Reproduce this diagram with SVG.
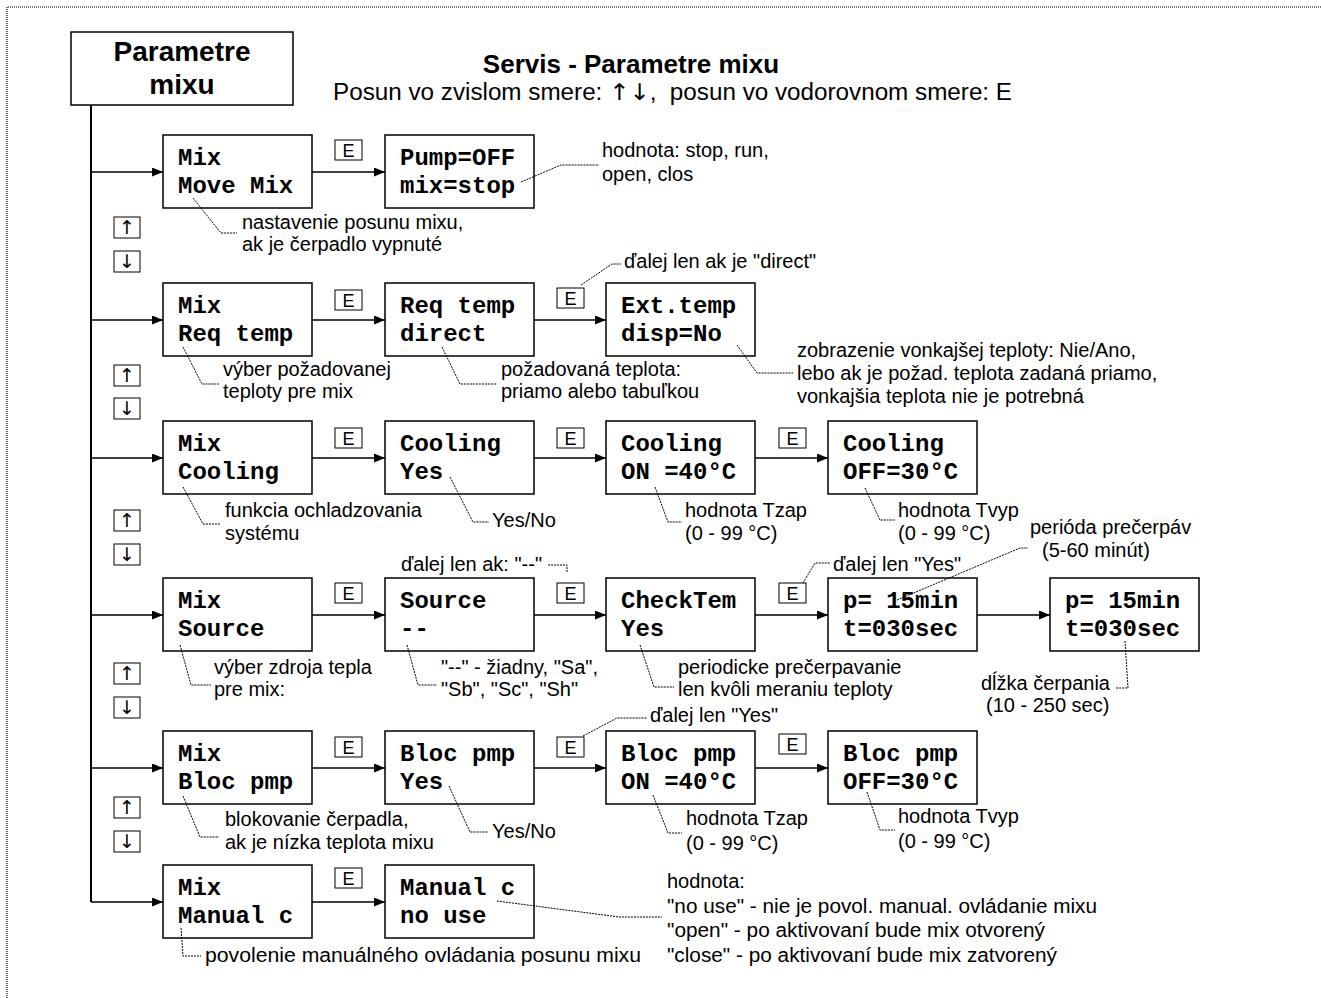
<svg xmlns="http://www.w3.org/2000/svg" width="1321" height="998" viewBox="0 0 1321 998">
<defs>
<marker id="ah" markerUnits="userSpaceOnUse" markerWidth="11" markerHeight="9" refX="11" refY="4.5" orient="auto">
<path d="M0,0 L11,4.5 L0,9 Z" fill="#000"/>
</marker>
<style>
.node{fill:#fff;stroke:#000;stroke-width:1.5}
.eb{fill:#fff;stroke:#000;stroke-width:1}
.mono{font-family:"Liberation Mono","Courier New",monospace;font-weight:bold;font-size:24px;fill:#000}
.ann{font-family:"Liberation Sans",Arial,sans-serif;font-size:20px;fill:#000}
.el{font-family:"Liberation Sans",Arial,sans-serif;font-size:18px;fill:#000;text-anchor:middle}
.arr{font-family:"DejaVu Sans",sans-serif;font-size:19px;fill:#000;text-anchor:middle}
.ln{fill:none;stroke:#000;stroke-width:1.3}
.ld{fill:none;stroke:#000;stroke-width:1;stroke-dasharray:2 1}
.title{font-family:"Liberation Sans",Arial,sans-serif;font-weight:bold;fill:#000}
</style>
</defs>
<rect width="1321" height="998" fill="#fff"/>
<path d="M7,998 V7 H1321" fill="none" stroke="#000" stroke-width="1.2" stroke-dasharray="1 1"/>

<g id="header">
<rect x="71" y="32" width="222" height="73" class="node" stroke-width="1"/>
<text x="182" y="61" class="title" font-size="28" text-anchor="middle">Parametre</text>
<text x="182" y="94" class="title" font-size="28" text-anchor="middle">mixu</text>
<text x="631" y="73" class="title" font-size="26" text-anchor="middle">Servis - Parametre mixu</text>
<text x="333" y="100" font-family="Liberation Sans, Arial, sans-serif" font-size="23" fill="#000" xml:space="preserve" textLength="679" lengthAdjust="spacingAndGlyphs">Posun vo zvislom smere: <tspan font-family="DejaVu Sans, sans-serif">↑↓</tspan>,  posun vo vodorovnom smere: E</text>
</g>

<g id="connectors">
<path d="M91,105 V902" fill="none" stroke="#000" stroke-width="2"/>
<path class="ln" d="M91,172 H163" marker-end="url(#ah)"/>
<path class="ln" d="M91,320 H163" marker-end="url(#ah)"/>
<path class="ln" d="M91,458 H163" marker-end="url(#ah)"/>
<path class="ln" d="M91,615 H163" marker-end="url(#ah)"/>
<path class="ln" d="M91,768 H163" marker-end="url(#ah)"/>
<path class="ln" d="M91,902 H163" marker-end="url(#ah)"/>
<path class="ln" d="M312,172 H385" marker-end="url(#ah)"/>
<path class="ln" d="M312,320 H385" marker-end="url(#ah)"/>
<path class="ln" d="M534,320 H606" marker-end="url(#ah)"/>
<path class="ln" d="M312,458 H385" marker-end="url(#ah)"/>
<path class="ln" d="M534,458 H606" marker-end="url(#ah)"/>
<path class="ln" d="M755,458 H828" marker-end="url(#ah)"/>
<path class="ln" d="M312,615 H385" marker-end="url(#ah)"/>
<path class="ln" d="M534,615 H606" marker-end="url(#ah)"/>
<path class="ln" d="M755,615 H828" marker-end="url(#ah)"/>
<path class="ln" d="M977,615 H1050" marker-end="url(#ah)"/>
<path class="ln" d="M312,768 H385" marker-end="url(#ah)"/>
<path class="ln" d="M534,768 H606" marker-end="url(#ah)"/>
<path class="ln" d="M755,768 H828" marker-end="url(#ah)"/>
<path class="ln" d="M312,902 H385" marker-end="url(#ah)"/>
</g>

<g id="ekeys">
<rect class="eb" x="335" y="140" width="27" height="20"/><text class="el" x="348.5" y="157">E</text>
<rect class="eb" x="335" y="290" width="27" height="20"/><text class="el" x="348.5" y="307">E</text>
<rect class="eb" x="557" y="288" width="27" height="20"/><text class="el" x="570.5" y="305">E</text>
<rect class="eb" x="335" y="428" width="27" height="20"/><text class="el" x="348.5" y="445">E</text>
<rect class="eb" x="557" y="428" width="27" height="20"/><text class="el" x="570.5" y="445">E</text>
<rect class="eb" x="779" y="428" width="27" height="20"/><text class="el" x="792.5" y="445">E</text>
<rect class="eb" x="335" y="583" width="27" height="20"/><text class="el" x="348.5" y="600">E</text>
<rect class="eb" x="557" y="583" width="27" height="20"/><text class="el" x="570.5" y="600">E</text>
<rect class="eb" x="779" y="583" width="27" height="20"/><text class="el" x="792.5" y="600">E</text>
<rect class="eb" x="335" y="737" width="27" height="20"/><text class="el" x="348.5" y="754">E</text>
<rect class="eb" x="557" y="737" width="27" height="20"/><text class="el" x="570.5" y="754">E</text>
<rect class="eb" x="779" y="734" width="27" height="20"/><text class="el" x="792.5" y="751">E</text>
<rect class="eb" x="335" y="868" width="27" height="20"/><text class="el" x="348.5" y="885">E</text>
</g>

<g id="updown">
<rect class="eb" x="114" y="217" width="26" height="21"/><text class="arr" x="127" y="234">↑</text>
<rect class="eb" x="114" y="251" width="26" height="21"/><text class="arr" x="127" y="268">↓</text>
<rect class="eb" x="114" y="365" width="26" height="21"/><text class="arr" x="127" y="382">↑</text>
<rect class="eb" x="114" y="398" width="26" height="21"/><text class="arr" x="127" y="415">↓</text>
<rect class="eb" x="114" y="510" width="26" height="21"/><text class="arr" x="127" y="527">↑</text>
<rect class="eb" x="114" y="544" width="26" height="21"/><text class="arr" x="127" y="561">↓</text>
<rect class="eb" x="114" y="663" width="26" height="21"/><text class="arr" x="127" y="680">↑</text>
<rect class="eb" x="114" y="697" width="26" height="21"/><text class="arr" x="127" y="714">↓</text>
<rect class="eb" x="114" y="797" width="26" height="21"/><text class="arr" x="127" y="814">↑</text>
<rect class="eb" x="114" y="831" width="26" height="21"/><text class="arr" x="127" y="848">↓</text>
</g>

<g id="n-mix-move">
<rect class="node" x="163" y="135" width="149" height="73"/>
<text class="mono" x="178" y="165">Mix</text><text class="mono" x="178" y="193">Move Mix</text>
</g>
<g id="n-pump">
<rect class="node" x="385" y="135" width="149" height="73"/>
<text class="mono" x="400" y="165">Pump=OFF</text><text class="mono" x="400" y="193">mix=stop</text>
</g>

<g id="n-mix-req">
<rect class="node" x="163" y="283" width="149" height="73"/>
<text class="mono" x="178" y="313">Mix</text><text class="mono" x="178" y="341">Req temp</text>
</g>
<g id="n-req-direct">
<rect class="node" x="385" y="283" width="149" height="73"/>
<text class="mono" x="400" y="313">Req temp</text><text class="mono" x="400" y="341">direct</text>
</g>
<g id="n-ext">
<rect class="node" x="606" y="283" width="149" height="73"/>
<text class="mono" x="621" y="313">Ext.temp</text><text class="mono" x="621" y="341">disp=No</text>
</g>

<g id="n-mix-cool">
<rect class="node" x="163" y="421" width="149" height="73"/>
<text class="mono" x="178" y="451">Mix</text><text class="mono" x="178" y="479">Cooling</text>
</g>
<g id="n-cool-yes">
<rect class="node" x="385" y="421" width="149" height="73"/>
<text class="mono" x="400" y="451">Cooling</text><text class="mono" x="400" y="479">Yes</text>
</g>
<g id="n-cool-on">
<rect class="node" x="606" y="421" width="149" height="73"/>
<text class="mono" x="621" y="451">Cooling</text><text class="mono" x="621" y="479">ON =40°C</text>
</g>
<g id="n-cool-off">
<rect class="node" x="828" y="421" width="149" height="73"/>
<text class="mono" x="843" y="451">Cooling</text><text class="mono" x="843" y="479">OFF=30°C</text>
</g>

<g id="n-mix-src">
<rect class="node" x="163" y="578" width="149" height="73"/>
<text class="mono" x="178" y="608">Mix</text><text class="mono" x="178" y="636">Source</text>
</g>
<g id="n-src">
<rect class="node" x="385" y="578" width="149" height="73"/>
<text class="mono" x="400" y="608">Source</text><text class="mono" x="400" y="636">--</text>
</g>
<g id="n-check">
<rect class="node" x="606" y="578" width="149" height="73"/>
<text class="mono" x="621" y="608">CheckTem</text><text class="mono" x="621" y="636">Yes</text>
</g>
<g id="n-p1">
<rect class="node" x="828" y="578" width="149" height="73"/>
<text class="mono" x="843" y="608">p= 15min</text><text class="mono" x="843" y="636">t=030sec</text>
</g>
<g id="n-p2">
<rect class="node" x="1050" y="578" width="149" height="73"/>
<text class="mono" x="1065" y="608">p= 15min</text><text class="mono" x="1065" y="636">t=030sec</text>
</g>

<g id="n-mix-bloc">
<rect class="node" x="163" y="731" width="149" height="73"/>
<text class="mono" x="178" y="761">Mix</text><text class="mono" x="178" y="789">Bloc pmp</text>
</g>
<g id="n-bloc-yes">
<rect class="node" x="385" y="731" width="149" height="73"/>
<text class="mono" x="400" y="761">Bloc pmp</text><text class="mono" x="400" y="789">Yes</text>
</g>
<g id="n-bloc-on">
<rect class="node" x="606" y="731" width="149" height="73"/>
<text class="mono" x="621" y="761">Bloc pmp</text><text class="mono" x="621" y="789">ON =40°C</text>
</g>
<g id="n-bloc-off">
<rect class="node" x="828" y="731" width="149" height="73"/>
<text class="mono" x="843" y="761">Bloc pmp</text><text class="mono" x="843" y="789">OFF=30°C</text>
</g>

<g id="n-mix-man">
<rect class="node" x="163" y="865" width="149" height="73"/>
<text class="mono" x="178" y="895">Mix</text><text class="mono" x="178" y="923">Manual c</text>
</g>
<g id="n-man">
<rect class="node" x="385" y="865" width="149" height="73"/>
<text class="mono" x="400" y="895">Manual c</text><text class="mono" x="400" y="923">no use</text>
</g>

<g id="leaders">
<polyline class="ld" points="193,198 221,233 237,233"/>
<polyline class="ld" points="521,182 561,165 599,165"/>
<polyline class="ld" points="581,285 612,264 621,264"/>
<polyline class="ld" points="183,347 202,384 219,384"/>
<polyline class="ld" points="442,347 460,384 497,384"/>
<polyline class="ld" points="737,345 757,373 793,373"/>
<polyline class="ld" points="183,487 203,524 220,524"/>
<polyline class="ld" points="450,477 473,522 489,522"/>
<polyline class="ld" points="655,487 668,522 682,522"/>
<polyline class="ld" points="865,488 880,520 895,520"/>
<polyline class="ld" points="548,565 567,565 567,573"/>
<polyline class="ld" points="180,645 191,685 211,685"/>
<polyline class="ld" points="407,645 418,685 437,685"/>
<polyline class="ld" points="640,645 654,687 674,687"/>
<polyline class="ld" points="803,583 815,563 830,563"/>
<polyline class="ld" points="897,600 1020,548 1028,548"/>
<polyline class="ld" points="1125,641 1128,688 1116,688"/>
<polyline class="ld" points="583,736 617,718 647,718"/>
<polyline class="ld" points="183,796 200,837 219,837"/>
<polyline class="ld" points="449,786 470,832 488,832"/>
<polyline class="ld" points="653,795 668,833 682,833"/>
<polyline class="ld" points="867,792 880,830 895,830"/>
<polyline class="ld" points="181,928 183,956 201,956"/>
<polyline class="ld" points="497,901 619,917 662,917"/>
</g>

<g id="notes">
<text class="ann" x="242" y="229">nastavenie posunu mixu,</text>
<text class="ann" x="242" y="251">ak je čerpadlo vypnuté</text>
<text class="ann" x="602" y="157">hodnota: stop, run,</text>
<text class="ann" x="602" y="181">open, clos</text>
<text class="ann" x="624" y="268">ďalej len ak je "direct"</text>
<text class="ann" x="223" y="376">výber požadovanej</text>
<text class="ann" x="223" y="398">teploty pre mix</text>
<text class="ann" x="501" y="376">požadovaná teplota:</text>
<text class="ann" x="501" y="398">priamo alebo tabuľkou</text>
<text class="ann" x="797" y="357">zobrazenie vonkajšej teploty: Nie/Ano,</text>
<text class="ann" x="797" y="380">lebo ak je požad. teplota zadaná priamo,</text>
<text class="ann" x="797" y="403">vonkajšia teplota nie je potrebná</text>
<text class="ann" x="225" y="517">funkcia ochladzovania</text>
<text class="ann" x="225" y="540">systému</text>
<text class="ann" x="492" y="527">Yes/No</text>
<text class="ann" x="685" y="517">hodnota Tzap</text>
<text class="ann" x="685" y="540">(0 - 99 °C)</text>
<text class="ann" x="898" y="517">hodnota Tvyp</text>
<text class="ann" x="898" y="540">(0 - 99 °C)</text>
<text class="ann" x="401" y="571">ďalej len ak: "--"</text>
<text class="ann" x="214" y="674">výber zdroja tepla</text>
<text class="ann" x="214" y="696">pre mix:</text>
<text class="ann" x="441" y="674">"--" - žiadny, "Sa",</text>
<text class="ann" x="441" y="696">"Sb", "Sc", "Sh"</text>
<text class="ann" x="678" y="674">periodicke prečerpavanie</text>
<text class="ann" x="678" y="696">len kvôli meraniu teploty</text>
<text class="ann" x="833" y="571">ďalej len "Yes"</text>
<text class="ann" x="1030" y="534">perióda prečerpáv</text>
<text class="ann" x="1042" y="557">(5-60 minút)</text>
<text class="ann" x="981" y="690">dĺžka čerpania</text>
<text class="ann" x="986" y="712">(10 - 250 sec)</text>
<text class="ann" x="650" y="722">ďalej len "Yes"</text>
<text class="ann" x="225" y="826">blokovanie čerpadla,</text>
<text class="ann" x="225" y="849">ak je nízka teplota mixu</text>
<text class="ann" x="492" y="838">Yes/No</text>
<text class="ann" x="686" y="825">hodnota Tzap</text>
<text class="ann" x="686" y="850">(0 - 99 °C)</text>
<text class="ann" x="898" y="823">hodnota Tvyp</text>
<text class="ann" x="898" y="848">(0 - 99 °C)</text>
<text class="ann" x="205" y="962" textLength="436" lengthAdjust="spacingAndGlyphs">povolenie manuálného ovládania posunu mixu</text>
<text class="ann" x="667" y="888">hodnota:</text>
<text class="ann" x="667" y="913" textLength="430" lengthAdjust="spacingAndGlyphs">"no use" - nie je povol. manual. ovládanie mixu</text>
<text class="ann" x="667" y="937" textLength="378" lengthAdjust="spacingAndGlyphs">"open" - po aktivovaní bude mix otvorený</text>
<text class="ann" x="667" y="962" textLength="390" lengthAdjust="spacingAndGlyphs">"close" - po aktivovaní bude mix zatvorený</text>
</g>
</svg>
